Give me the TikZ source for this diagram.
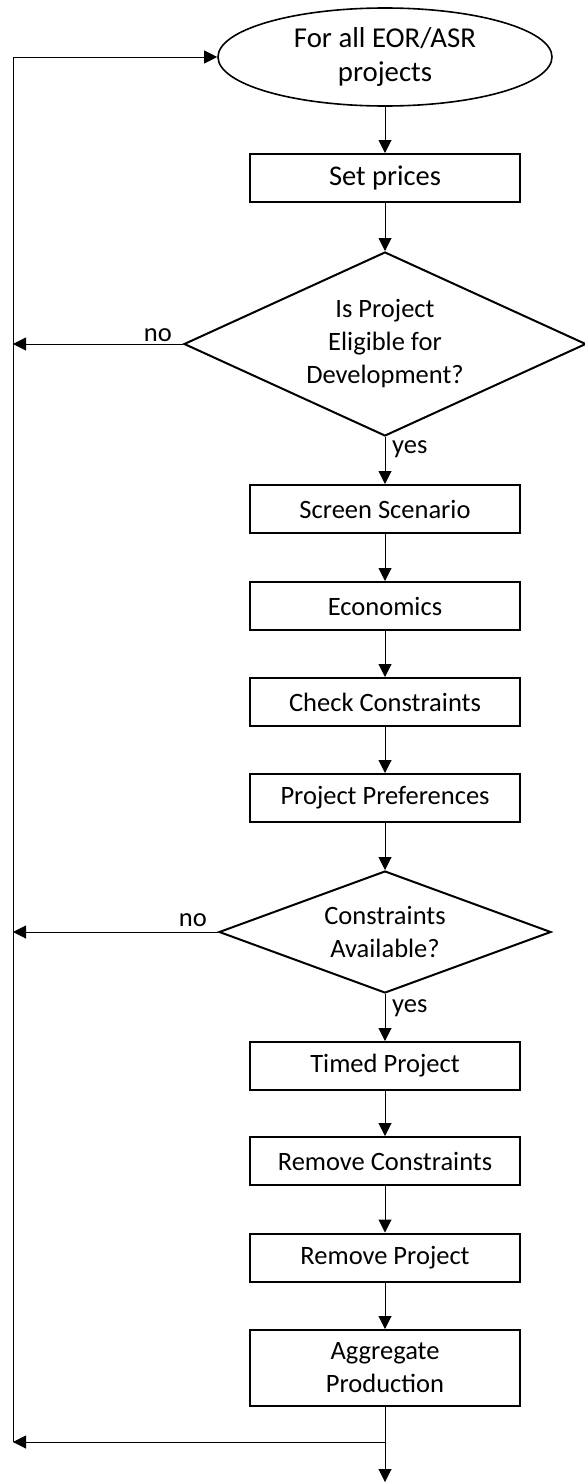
\documentclass[tikz,border=0pt]{standalone}
\usepackage{fontspec}
\setmainfont{Carlito}
\usetikzlibrary{shapes.geometric,arrows.meta}
\begin{document}
\begin{tikzpicture}[x=1pt,y=-1pt,
  every node/.style={font=\fontsize{26.5}{33}\selectfont, text=black},
  procbox/.style={draw, line width=2pt, minimum width=270pt, minimum height=48pt,
    inner sep=0pt, align=center},
  decision/.style={diamond, draw, line width=2pt, inner sep=0pt, align=center},
  terminal/.style={ellipse, draw, line width=1.6pt, inner sep=0pt, align=center,
    font=\fontsize{28.8}{34}\selectfont},
  flow/.style={line width=1pt, -{Triangle[length=13pt,width=13pt]}},
  lbl/.style={inner sep=0pt}
]
\useasboundingbox (0,0) rectangle (585,1483);

% main column
\node[terminal, minimum width=334pt, minimum height=98pt] (start) at (385,57) {For all EOR/ASR\\projects};
\node[procbox, font=\fontsize{28.5}{33}\selectfont] (prices) at (385,178) {Set prices};
\node[decision, aspect=2.18, minimum width=402pt, minimum height=184pt] (elig) at (385,344) {Is Project\\Eligible for\\Development?};
\node[procbox] (screen) at (385,509) {Screen Scenario};
\node[procbox] (econ) at (385,606) {Economics};
\node[procbox] (check) at (385,702) {Check Constraints};
\node[procbox] (pref) at (385,798) {Project Preferences};
\node[decision, aspect=2.72, minimum width=332pt, minimum height=122pt] (avail) at (385,932) {Constraints\\Available?};
\node[procbox] (timed) at (385,1066) {Timed Project};
\node[procbox] (remc) at (385,1161) {Remove Constraints};
\node[procbox] (remp) at (385,1257.5) {Remove Project};
\node[procbox, minimum height=76pt] (agg) at (385,1368) {Aggregate\\Production};

% branch labels
\node[lbl, anchor=base east] (no1) at ([shift={(-11,-3)}]elig.west) {no};
\node[lbl, anchor=base west] (yes1) at ([shift={(7,16)}]elig.south) {yes};
\node[lbl, anchor=base east] (no2) at ([shift={(-11,-6)}]avail.west) {no};
\node[lbl, anchor=base west] (yes2) at ([shift={(7,18)}]avail.south) {yes};

% helper points for the return rail and the exit
\coordinate (join) at (385,1442);
\coordinate (rail) at (13,1442);
\coordinate (out) at (385,1482);

% downward flow
\draw[flow] (start.south) -- (prices.north);
\draw[flow] (prices.south) -- (elig.north);
\draw[flow] (elig.south) -- (screen.north);
\draw[flow] (screen.south) -- (econ.north);
\draw[flow] (econ.south) -- (check.north);
\draw[flow] (check.south) -- (pref.north);
\draw[flow] (pref.south) -- (avail.north);
\draw[flow] (avail.south) -- (timed.north);
\draw[flow] (timed.south) -- (remc.north);
\draw[flow] (remc.south) -- (remp.north);
\draw[flow] (remp.south) -- (agg.north);
\draw[flow] (agg.south) -- (out);

% "no" branches and loop back
\draw[flow] (elig.west) -- (elig.west -| rail);
\draw[flow] (avail.west) -- (avail.west -| rail);
\draw[flow] (join) -- (rail);
\draw[flow] (rail) |- (start.west);
\end{tikzpicture}
\end{document}
